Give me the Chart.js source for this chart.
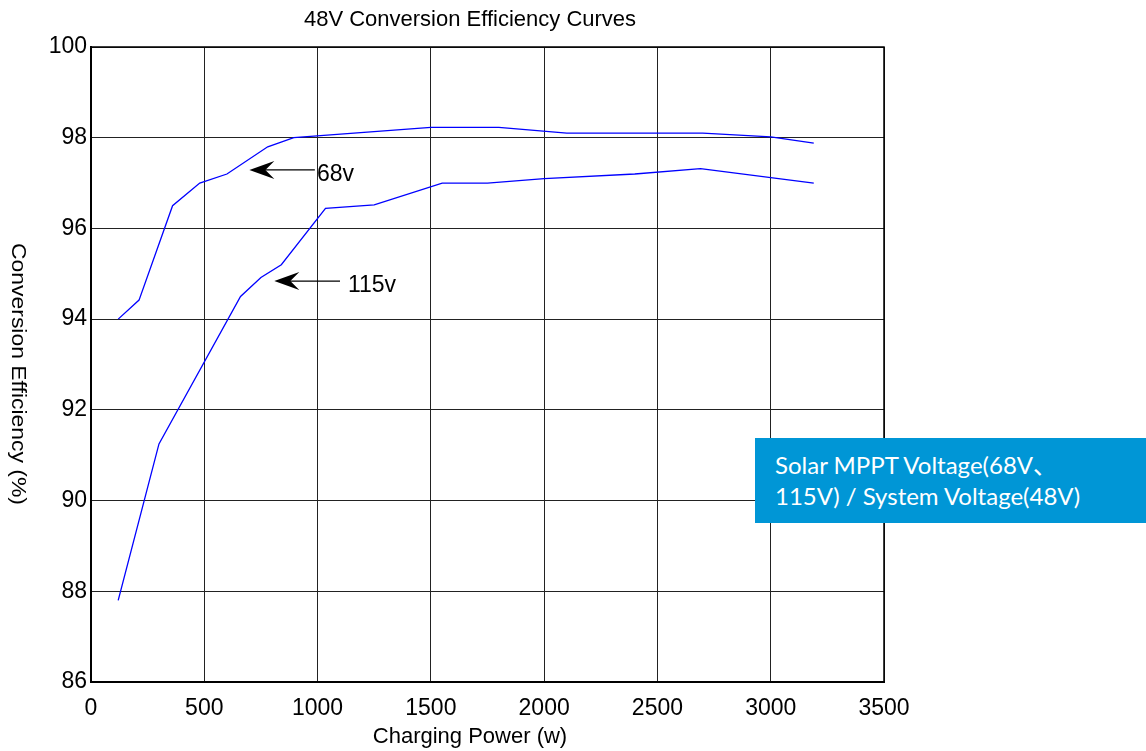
<!DOCTYPE html>
<html>
<head>
<meta charset="utf-8">
<script src="https://cdn.jsdelivr.net/npm/chart.js@4/dist/chart.umd.min.js"></script>
<style>
  html, body { margin: 0; padding: 0; background: #fff; }
  #wrap { position: relative; width: 1146px; height: 751px; overflow: hidden; }
  #c { position: absolute; left: 0; top: 0; }
  #note {
    position: absolute; left: 755px; top: 438px; width: 391px; height: 85px;
    background: #0096D6; color: #fff; box-sizing: border-box;
    padding: 11px 0 0 20px; font-family: Lato, "Noto Sans CJK SC", sans-serif;
    font-size: 24px; line-height: 31px; white-space: nowrap;
  }
</style>
</head>
<body>
<div id="wrap">
  <canvas id="c" width="1146" height="751"></canvas>
  <div id="note">Solar MPPT Voltage(68V、<br>115V) / System Voltage(48V)</div>
</div>
<script>
// ---- data ----
const power68 = [120, 212, 360, 480, 600, 780, 895, 1500, 1800, 2100, 2700, 3000, 3190];
const eff68   = [94.0, 94.42, 96.5, 97.0, 97.2, 97.8, 98.0, 98.23, 98.23, 98.1, 98.1, 98.02, 97.88];
const power115 = [120, 300, 660, 750, 840, 1035, 1250, 1550, 1750, 2000, 2400, 2690, 3190];
const eff115   = [87.8, 91.25, 94.5, 94.92, 95.2, 96.44, 96.52, 97.0, 97.0, 97.1, 97.2, 97.32, 97.0];
const xTicks = [0, 500, 1000, 1500, 2000, 2500, 3000, 3500];
const yTicks = [86, 88, 90, 92, 94, 96, 98, 100];
const titleText = '48V Conversion Efficiency Curves';
const xTitle = 'Charging Power (w)';
const yTitle = 'Conversion Efficiency (%)';
const labels = ['68v', '115v'];

const toXY = (xs, ys) => xs.map((x, i) => ({ x: x, y: ys[i] }));

const decor = {
  id: 'decor',
  afterDraw(chart) {
    const ctx = chart.ctx, a = chart.chartArea;
    const xs = chart.scales.x, ys = chart.scales.y;
    ctx.save();
    // frame top/right
    ctx.strokeStyle = '#000';
    ctx.lineWidth = 1.5;
    ctx.beginPath();
    ctx.moveTo(a.left, a.top); ctx.lineTo(a.right, a.top); ctx.lineTo(a.right, a.bottom);
    ctx.stroke();
    // titles
    ctx.fillStyle = '#000';
    ctx.textAlign = 'center';
    ctx.textBaseline = 'middle';
    ctx.font = '22px "Liberation Sans", Arial, sans-serif';
    ctx.fillText(titleText, 470, 20);
    ctx.fillText(xTitle, 470, 737);
    // y title rotated clockwise (reads top to bottom)
    ctx.save();
    ctx.translate(18, 374);
    ctx.rotate(Math.PI / 2);
    ctx.font = '20px "Liberation Sans", Arial, sans-serif';
    const w = ctx.measureText(yTitle).width;
    ctx.scale(262 / w, 1);
    ctx.fillText(yTitle, 0, 0);
    ctx.restore();
    // arrows + labels (data coordinates)
    const ann = [
      { text: labels[0], tip: [699, 97.29], tail: 988, tx: 997, ty: 97.18 },
      { text: labels[1], tip: [809, 94.84], tail: 1099, tx: 1134, ty: 94.73 }
    ];
    ann.forEach(an => {
      const px = xs.getPixelForValue(an.tip[0]);
      const py = ys.getPixelForValue(an.tip[1]);
      const tx = xs.getPixelForValue(an.tail);
      ctx.strokeStyle = '#000';
      ctx.lineWidth = 1.3;
      ctx.beginPath();
      ctx.moveTo(px + 12, py); ctx.lineTo(tx, py);
      ctx.stroke();
      ctx.fillStyle = '#000';
      ctx.beginPath();
      ctx.moveTo(px, py);
      ctx.lineTo(px + 25, py - 9);
      ctx.lineTo(px + 16, py);
      ctx.lineTo(px + 25, py + 9);
      ctx.closePath();
      ctx.fill();
      ctx.textAlign = 'left';
      ctx.textBaseline = 'middle';
      ctx.font = '23px "Liberation Sans", Arial, sans-serif';
      ctx.fillText(an.text, xs.getPixelForValue(an.tx), ys.getPixelForValue(an.ty));
    });
    ctx.restore();
  }
};

const tickFont = { family: '"Liberation Sans", Arial, sans-serif', size: 23 };

new Chart(document.getElementById('c'), {
  type: 'scatter',
  data: {
    datasets: [
      { label: labels[0], data: toXY(power68, eff68), showLine: true, borderColor: '#0000FF',
        borderWidth: 1.3, pointRadius: 0, tension: 0, fill: false },
      { label: labels[1], data: toXY(power115, eff115), showLine: true, borderColor: '#0000FF',
        borderWidth: 1.3, pointRadius: 0, tension: 0, fill: false }
    ]
  },
  options: {
    responsive: false,
    animation: false,
    devicePixelRatio: 1,
    layout: { padding: { top: 47, right: 262, bottom: 0, left: 0 } },
    plugins: { legend: { display: false }, title: { display: false }, tooltip: { enabled: false } },
    scales: {
      x: {
        type: 'linear', min: 0, max: 3500,
        afterBuildTicks: s => { s.ticks = xTicks.map(v => ({ value: v })); },
        afterFit: s => { s.height = 69; },
        grid: { color: '#222', lineWidth: 1, drawTicks: false },
        border: { color: '#000', width: 2 },
        ticks: { color: '#000', font: tickFont, padding: 13, maxRotation: 0,
                 callback: v => String(v) }
      },
      y: {
        type: 'linear', min: 86, max: 100,
        afterBuildTicks: s => { s.ticks = yTicks.map(v => ({ value: v })); },
        afterFit: s => { s.width = 91; },
        grid: { color: '#222', lineWidth: 1, drawTicks: false },
        border: { color: '#000', width: 2 },
        ticks: { color: '#000', font: tickFont, padding: 4, callback: v => String(v) }
      }
    }
  },
  plugins: [decor]
});
</script>
</body>
</html>
